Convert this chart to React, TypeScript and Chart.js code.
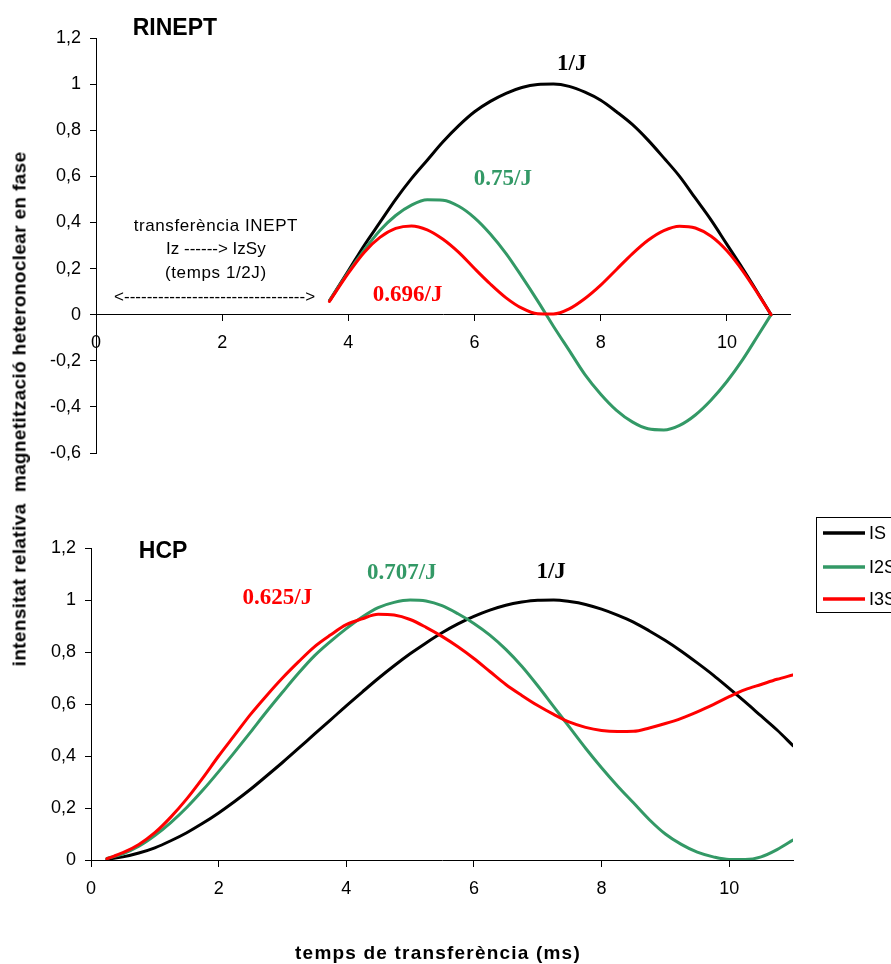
import { useEffect, useRef } from 'react';
import { Chart, registerables } from 'chart.js';

Chart.register(...registerables);

// ---------- data ----------
const seriesLabels = ['IS', 'I2S', 'I3S'];
const seriesColors = ['#000000', '#339966', '#ff0000'];

// RINEPT (top panel)
const topX = [3.7, 4.0, 4.25, 4.5, 4.75, 5.0, 5.25, 5.5, 5.75, 6.0, 6.25, 6.5, 6.75, 7.0, 7.25, 7.5, 7.75, 8.0, 8.25, 8.5, 8.75, 9.0, 9.25, 9.5, 9.75, 10.0, 10.25, 10.5, 10.7];
const topIS = [0.06, 0.19, 0.3, 0.4, 0.5, 0.59, 0.67, 0.75, 0.82, 0.88, 0.925, 0.96, 0.985, 0.998, 1.0, 0.99, 0.965, 0.93, 0.88, 0.825, 0.757, 0.68, 0.6, 0.505, 0.41, 0.305, 0.2, 0.09, 0.0];
const topI2S = [0.06, 0.185, 0.28, 0.365, 0.43, 0.475, 0.498, 0.496, 0.47, 0.42, 0.35, 0.265, 0.165, 0.06, -0.05, -0.155, -0.26, -0.345, -0.415, -0.465, -0.495, -0.5, -0.48, -0.435, -0.37, -0.29, -0.195, -0.087, 0.0];
const topI3S = [0.057, 0.18, 0.27, 0.335, 0.374, 0.385, 0.368, 0.327, 0.27, 0.2, 0.133, 0.073, 0.028, 0.004, 0.003, 0.025, 0.07, 0.128, 0.196, 0.264, 0.323, 0.365, 0.384, 0.376, 0.34, 0.277, 0.19, 0.087, 0.0];

// HCP (bottom panel)
const bottomX = [0.25, 0.5, 0.75, 1, 1.25, 1.5, 1.75, 2, 2.25, 2.5, 2.75, 3, 3.25, 3.5, 3.75, 4, 4.25, 4.5, 4.75, 5, 5.25, 5.5, 5.75, 6, 6.25, 6.5, 6.75, 7, 7.25, 7.5, 7.75, 8, 8.25, 8.5, 8.75, 9, 9.25, 9.5, 9.75, 10, 10.25, 10.5, 10.75, 11];
const bottomIS = [0.003, 0.012, 0.027, 0.047, 0.074, 0.105, 0.141, 0.181, 0.225, 0.272, 0.323, 0.375, 0.429, 0.484, 0.538, 0.593, 0.646, 0.698, 0.747, 0.793, 0.835, 0.874, 0.908, 0.937, 0.961, 0.98, 0.992, 0.999, 1.0, 0.994, 0.983, 0.965, 0.942, 0.915, 0.881, 0.844, 0.803, 0.758, 0.711, 0.66, 0.608, 0.554, 0.5, 0.44];
const bottomI2S = [0.006, 0.024, 0.053, 0.094, 0.144, 0.202, 0.268, 0.34, 0.415, 0.492, 0.57, 0.645, 0.718, 0.785, 0.84, 0.89, 0.935, 0.971, 0.991, 1.0, 0.996, 0.978, 0.947, 0.91, 0.865, 0.81, 0.745, 0.67, 0.59, 0.51, 0.43, 0.355, 0.285, 0.22, 0.155, 0.1, 0.06, 0.03, 0.012, 0.002, 0.002, 0.012, 0.04, 0.077];
const bottomI3S = [0.005, 0.028, 0.06, 0.105, 0.165, 0.235, 0.315, 0.4, 0.48, 0.56, 0.632, 0.7, 0.762, 0.82, 0.865, 0.905, 0.928, 0.945, 0.942, 0.925, 0.895, 0.86, 0.82, 0.775, 0.725, 0.675, 0.633, 0.594, 0.56, 0.53, 0.51, 0.498, 0.494, 0.495, 0.508, 0.525, 0.545, 0.57, 0.598, 0.628, 0.655, 0.675, 0.695, 0.712];

const xMin = 0;
const xMax = 11;
const xStep = 2;
const yStep = 0.2;
const topYMin = -0.6;
const topYMax = 1.2;
const bottomYMin = 0;
const bottomYMax = 1.2;

const yTitle = 'intensitat relativa  magnetització heteronoclear en fase';
const xTitle = 'temps de transferència (ms)';

const SANS = '"Liberation Sans", Arial, sans-serif';
const SERIF = '"Liberation Serif", "Times New Roman", serif';

type Note = { text: string; x: number; y: number; font: string; color: string; spacing?: string };

const topNotes: Note[] = [
  { text: 'RINEPT', x: 1.25, y: 1.213, font: `bold 23px ${SANS}`, color: '#000' },
  { text: '1/J', x: 7.54, y: 1.061, font: `bold 23px ${SERIF}`, color: seriesColors[0] },
  { text: '0.75/J', x: 6.45, y: 0.561, font: `bold 23px ${SERIF}`, color: seriesColors[1] },
  { text: '0.696/J', x: 4.94, y: 0.061, font: `bold 23px ${SERIF}`, color: seriesColors[2] },
  { text: 'transferència INEPT', x: 1.9, y: 0.365, font: `17px ${SANS}`, color: '#000', spacing: '0.6px' },
  { text: 'Iz ------> IzSy', x: 1.9, y: 0.261, font: `17px ${SANS}`, color: '#000' },
  { text: '(temps 1/2J)', x: 1.9, y: 0.161, font: `17px ${SANS}`, color: '#000', spacing: '0.6px' },
  { text: '<-------------------------------->', x: 1.88, y: 0.054, font: `17px ${SANS}`, color: '#000' },
];

const bottomNotes: Note[] = [
  { text: 'HCP', x: 1.13, y: 1.16, font: `bold 23px ${SANS}`, color: '#000' },
  { text: '0.625/J', x: 2.92, y: 0.985, font: `bold 23px ${SERIF}`, color: seriesColors[2] },
  { text: '0.707/J', x: 4.87, y: 1.08, font: `bold 23px ${SERIF}`, color: seriesColors[1] },
  { text: '1/J', x: 7.21, y: 1.083, font: `bold 23px ${SERIF}`, color: seriesColors[0] },
];

function commaFmt(v: number | string) {
  const r = Math.round(Number(v) * 10) / 10;
  return String(r === 0 ? 0 : r).replace('.', ',');
}

function notesPlugin(notes: Note[]) {
  return {
    id: 'notes',
    afterDatasetsDraw(chart: any) {
      const { ctx, scales } = chart;
      for (const n of notes) {
        ctx.save();
        ctx.font = n.font;
        ctx.fillStyle = n.color;
        ctx.textAlign = 'center';
        ctx.textBaseline = 'alphabetic';
        (ctx as any).letterSpacing = n.spacing || '0px';
        ctx.fillText(n.text, scales.x.getPixelForValue(n.x), scales.y.getPixelForValue(n.y));
        ctx.restore();
      }
    },
  };
}

const boxLegendPlugin = {
  id: 'boxLegend',
  afterDraw(chart: any) {
    const { ctx, chartArea } = chart;
    const left = chartArea.right + 23;
    const top = chartArea.top - 31;
    ctx.save();
    ctx.fillStyle = '#fff';
    ctx.fillRect(left, top, 120, 95);
    ctx.strokeStyle = '#000';
    ctx.lineWidth = 1;
    ctx.strokeRect(left + 0.5, top + 0.5, 120, 95);
    const rows = [16, 50, 82];
    chart.data.datasets.forEach((ds: any, i: number) => {
      const yy = top + rows[i];
      ctx.strokeStyle = ds.borderColor;
      ctx.lineWidth = 3.5;
      ctx.beginPath();
      ctx.moveTo(left + 7, yy);
      ctx.lineTo(left + 49, yy);
      ctx.stroke();
      ctx.fillStyle = '#000';
      ctx.font = `18px ${SANS}`;
      ctx.textAlign = 'left';
      ctx.textBaseline = 'middle';
      ctx.fillText(ds.label, left + 53, yy + 1);
    });
    ctx.restore();
  },
};

function makeDatasets(xs: number[], series: number[][]) {
  return series.map((vals, i) => ({
    label: seriesLabels[i],
    data: xs.map((x, j) => ({ x, y: vals[j] })),
    borderColor: seriesColors[i],
    backgroundColor: seriesColors[i],
    borderWidth: 3,
    pointRadius: 0,
    fill: false,
    cubicInterpolationMode: 'monotone' as const,
    borderCapStyle: 'round' as const,
    borderJoinStyle: 'round' as const,
    order: 2 - i,
  }));
}

function makeConfig(
  xs: number[],
  series: number[][],
  yMin: number,
  yMax: number,
  yAxisWidth: number,
  padding: { left: number; right: number; top: number; bottom: number },
  plugins: any[]
): any {
  return {
    type: 'line',
    data: { datasets: makeDatasets(xs, series) },
    options: {
      responsive: false,
      animation: false,
      events: [],
      layout: { padding },
      plugins: { legend: { display: false }, tooltip: { enabled: false } },
      scales: {
        x: {
          type: 'linear',
          min: xMin,
          max: xMax,
          position: { y: 0 },
          grid: { display: true, drawOnChartArea: false, drawTicks: true, tickLength: 6, color: '#000' },
          border: { display: true, color: '#000', width: 1 },
          ticks: {
            stepSize: xStep,
            includeBounds: false,
            padding: 12,
            maxRotation: 0,
            autoSkip: false,
            color: '#000',
            font: { family: SANS, size: 18 },
          },
        },
        y: {
          type: 'linear',
          min: yMin,
          max: yMax,
          afterFit: (s: any) => {
            s.width = yAxisWidth;
          },
          grid: { display: true, drawOnChartArea: false, drawTicks: true, tickLength: 6, color: '#000' },
          border: { display: true, color: '#000', width: 1 },
          ticks: {
            stepSize: yStep,
            padding: 9,
            color: '#000',
            font: { family: SANS, size: 18 },
            callback: (v: any) => commaFmt(v),
          },
        },
      },
    },
    plugins,
  };
}

export default function App() {
  const topRef = useRef<HTMLCanvasElement>(null);
  const botRef = useRef<HTMLCanvasElement>(null);

  useEffect(() => {
    const top = new Chart(
      topRef.current!,
      makeConfig(topX, [topIS, topI2S, topI3S], topYMin, topYMax, 96, { left: 0, right: 101, top: 38, bottom: 27 }, [
        notesPlugin(topNotes),
      ])
    );
    const bottom = new Chart(
      botRef.current!,
      makeConfig(bottomX, [bottomIS, bottomI2S, bottomI3S], bottomYMin, bottomYMax, 91, { left: 0, right: 98, top: 68, bottom: 104 }, [
        notesPlugin(bottomNotes),
        boxLegendPlugin,
      ])
    );
    return () => {
      top.destroy();
      bottom.destroy();
    };
  }, []);

  return (
    <div style={{ position: 'absolute', left: 0, top: 0, width: 891, height: 964, overflow: 'hidden', background: '#fff' }}>
      <canvas ref={topRef} width={891} height={480} style={{ position: 'absolute', left: 0, top: 0 }} />
      <canvas ref={botRef} width={891} height={484} style={{ position: 'absolute', left: 0, top: 480 }} />
      <div
        style={{
          position: 'absolute',
          left: 18.5,
          top: 409,
          transform: 'translate(-50%, -50%) rotate(-90deg)',
          whiteSpace: 'pre',
          font: `bold 19px ${SANS}`,
          lineHeight: '19px',
          letterSpacing: '0.35px',
          color: '#000',
        }}
      >
        {yTitle}
      </div>
      <div
        style={{
          position: 'absolute',
          left: 438,
          top: 952,
          transform: 'translate(-50%, -50%)',
          whiteSpace: 'pre',
          font: `bold 19px ${SANS}`,
          lineHeight: '19px',
          letterSpacing: '1.2px',
          color: '#000',
        }}
      >
        {xTitle}
      </div>
    </div>
  );
}
